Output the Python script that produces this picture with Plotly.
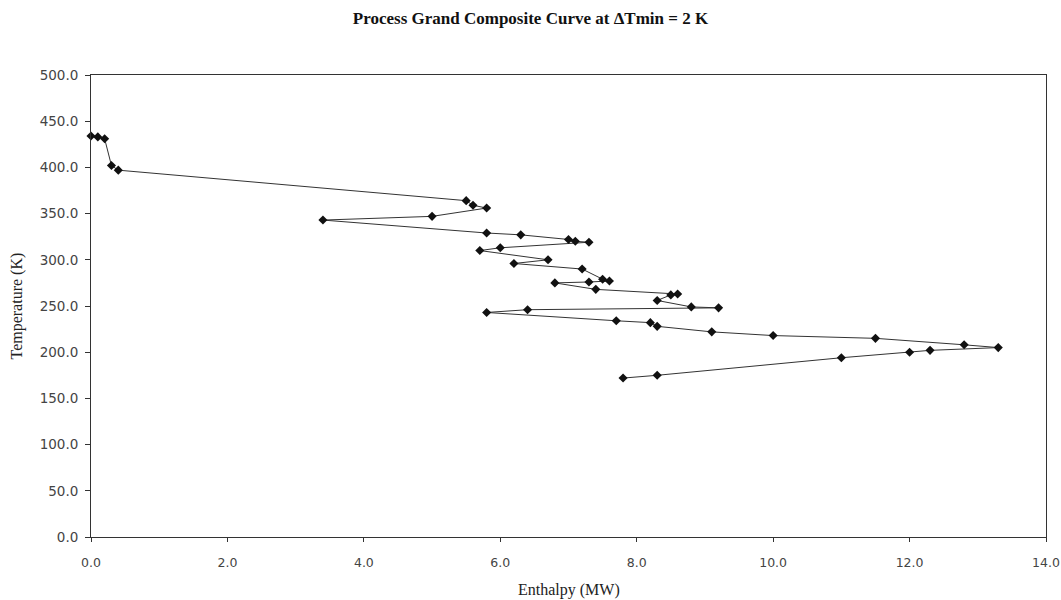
import plotly.graph_objects as go

enthalpy = [0.0, 0.1, 0.2, 0.3, 0.4, 5.5, 5.6, 5.8, 5.0, 3.4, 5.8, 6.3, 7.0, 7.1, 7.3,
            6.0, 5.7, 6.7, 6.2, 7.2, 7.5, 7.6, 7.3, 6.8, 7.4, 8.6, 8.5, 8.3, 8.8, 9.2,
            6.4, 5.8, 7.7, 8.2, 8.3, 9.1, 10.0, 11.5, 12.8, 13.3, 12.3, 12.0, 11.0, 8.3, 7.8]
temperature = [434, 433, 431, 402, 397, 364, 359, 356, 347, 343, 329, 327, 322, 320, 319,
               313, 310, 300, 296, 290, 279, 277, 276, 275, 268, 263, 262, 256, 249, 248,
               246, 243, 234, 232, 228, 222, 218, 215, 208, 205, 202, 200, 194, 175, 172]

x_ticks = [0, 2, 4, 6, 8, 10, 12, 14]
y_ticks = [0, 50, 100, 150, 200, 250, 300, 350, 400, 450, 500]

fig = go.Figure()
fig.add_trace(go.Scatter(
    x=enthalpy, y=temperature, mode="lines+markers",
    line=dict(color="#333333", width=1),
    marker=dict(symbol="diamond", size=7, color="#111111"),
    showlegend=False, cliponaxis=False,
))

fig.update_layout(
    width=1061, height=600,
    paper_bgcolor="white", plot_bgcolor="white",
    margin=dict(l=91, r=15, t=75, b=63),
    title=dict(text="<b>Process Grand Composite Curve at ΔTmin = 2 K</b>",
               x=0.5, xanchor="center", y=0.97, yanchor="middle",
               font=dict(family="Liberation Serif", size=17, color="#111111")),
    font=dict(family="Liberation Serif", color="#222222"),
    annotations=[
        dict(text="Enthalpy (MW)", xref="paper", yref="paper", x=0.5, y=-0.115,
             xanchor="center", yanchor="middle", showarrow=False,
             font=dict(family="Liberation Serif", size=16, color="#222222")),
        dict(text="Temperature (K)", xref="paper", yref="paper", x=-0.078, y=0.5,
             xanchor="center", yanchor="middle", showarrow=False, textangle=-90,
             font=dict(family="Liberation Serif", size=16, color="#222222")),
    ],
)
fig.update_xaxes(
    range=[0, 14], tickvals=x_ticks, ticktext=[f"{v:.1f}" for v in x_ticks],
    showgrid=False, zeroline=False, showline=True, linecolor="#333333", linewidth=1,
    mirror=True, ticks="outside", ticklen=4, tickcolor="#333333",
    tickfont=dict(family="DejaVu Sans", size=12.5, color="#444444"),
    ticklabelstandoff=10, automargin=False, ticklabeloverflow="allow",
)
fig.update_yaxes(
    range=[0, 500], tickvals=y_ticks, ticktext=[f"{v:.1f}" for v in y_ticks],
    showgrid=False, zeroline=False, showline=True, linecolor="#333333", linewidth=1,
    mirror=True, ticks="outside", ticklen=5, tickcolor="#333333",
    tickfont=dict(family="DejaVu Sans", size=13.5, color="#444444"),
    ticklabelstandoff=4, automargin=False,
)

fig.write_html("out.html")
